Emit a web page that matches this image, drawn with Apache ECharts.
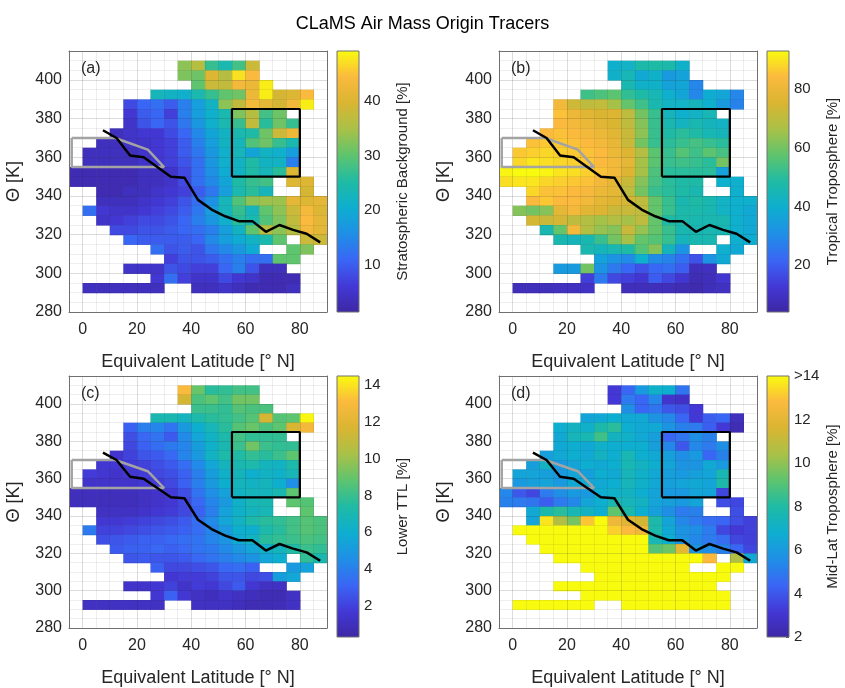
<!DOCTYPE html>
<html>
<head>
<meta charset="utf-8">
<script src="https://cdn.jsdelivr.net/npm/echarts@6/dist/echarts.min.js"></script>
<style>
  html, body { margin: 0; background: #fff; }
  #chart { width: 845px; height: 688px; }
</style>
</head>
<body>
<div id="chart"></div>
<script>
const _ = null;

// cell lower-left corners (5 deg x 5 K bins)
const latEdges = [-5, 0, 5, 10, 15, 20, 25, 30, 35, 40, 45, 50, 55, 60, 65, 70, 75, 80, 85];
const thetaRows = [405, 400, 395, 390, 385, 380, 375, 370, 365, 360, 355, 350, 345, 340, 335, 330, 325, 320, 315, 310, 305, 300, 295, 290];
const LAT_STEP = 5;
const THETA_STEP = 5;

// (a) stratospheric background [%]
const stratBackground = [
  [_,_,_,_,_,_,_,_,33,36,27,24,28,38,_,_,_,_,_],
  [_,_,_,_,_,_,_,_,32,31,40,36,47,44,_,_,_,_,_],
  [_,_,_,_,_,_,_,_,_,30,38,37,43,42,48,_,_,_,_],
  [_,_,_,_,_,_,23,22,21,24,27,30,31,42,48,39,40,44,_],
  [_,_,_,_,8,11,12,10,14,18,22,33,37,43,41,39,43,48,_],
  [_,_,_,_,6,10,11,7,14,18,21,24,32,36,28,31,_,_,_],
  [_,_,_,_,5,9,11,9,13,17,21,24,27,37,26,31,27,_,_],
  [_,_,_,4,5,6,6,8,11,15,19,22,24,25,31,38,42,_,_],
  [_,_,4,4,5,5,6,7,10,14,18,22,23,29,31,27,24,_,_],
  [_,4,4,4,4,5,6,7,10,13,17,21,23,19,22,21,18,_,_],
  [_,4,4,4,4,5,6,7,9,12,17,21,22,25,22,22,14,_,_],
  [3,3,3,3,3,4,4,5,8,12,16,20,22,25,23,26,40,_,_],
  [3,3,3,3,3,4,4,5,8,12,15,19,25,27,28,_,40,40,_],
  [_,_,3,3,4,4,5,6,7,10,13,18,24,26,23,_,_,39,_],
  [_,_,4,4,4,5,6,7,9,12,16,23,29,33,34,34,41,40,41],
  [_,12,6,5,5,6,7,8,10,13,18,23,27,23,30,33,38,43,40],
  [_,_,5,6,7,8,8,9,11,14,17,21,26,24,29,32,37,44,41],
  [_,_,_,8,8,9,9,10,11,12,14,18,22,30,36,33,36,43,41],
  [_,_,_,_,11,10,10,10,10,11,15,18,20,22,24,30,_,38,38],
  [_,_,_,_,_,_,12,9,10,9,13,15,17,20,_,_,30,32,_],
  [_,_,_,_,_,_,_,7,9,9,10,12,14,12,12,30,30,_,_],
  [_,_,_,_,5,5,5,9,8,7,7,11,14,9,4,4,_,_,_],
  [_,_,_,_,_,_,6,12,7,5,5,8,6,5,3,3,3,_,_],
  [_,4,4,4,4,4,4,_,_,4,4,5,4,3,3,3,4,_,_]
];

// (b) tropical troposphere [%]
const tropTroposphere = [
  [_,_,_,_,_,_,_,_,40,42,47,48,47,41,_,_,_,_,_],
  [_,_,_,_,_,_,_,_,41,45,38,41,34,36,_,_,_,_,_],
  [_,_,_,_,_,_,_,_,_,46,41,41,36,37,29,_,_,_,_],
  [_,_,_,_,_,_,53,55,57,51,48,45,40,37,29,39,37,29,_],
  [_,_,_,_,82,73,70,71,66,58,53,46,42,42,44,40,34,28,_],
  [_,_,_,_,85,80,77,75,76,70,60,52,44,40,42,45,_,_,_],
  [_,_,_,_,84,82,80,77,75,70,62,52,46,43,46,44,42,_,_],
  [_,_,_,84,85,84,82,80,77,72,63,52,48,50,48,45,44,_,_],
  [_,_,85,86,86,85,84,82,79,72,60,52,50,52,54,52,50,_,_],
  [_,86,87,88,87,86,85,84,80,76,68,57,52,56,53,57,54,_,_],
  [_,88,90,89,88,87,86,84,82,78,66,57,52,53,52,50,60,_,_],
  [92,93,93,92,90,89,87,85,82,76,66,55,50,50,50,50,36,_,_],
  [89,90,90,88,87,86,85,82,78,72,62,54,50,48,48,_,40,40,_],
  [_,_,88,85,85,84,83,80,78,70,60,52,50,48,46,_,_,40,_],
  [_,_,84,86,84,84,82,78,76,74,70,58,52,46,48,46,42,40,40],
  [_,62,60,62,78,82,77,76,72,72,70,58,52,47,47,46,42,40,38],
  [_,_,74,72,74,70,68,66,68,66,70,58,48,47,46,46,46,40,38],
  [_,_,_,46,58,82,68,64,62,72,64,58,52,46,46,46,45,40,38],
  [_,_,_,_,46,44,46,52,60,66,58,56,52,44,46,46,_,40,39],
  [_,_,_,_,_,_,46,44,46,48,56,62,44,32,_,_,40,38,_],
  [_,_,_,_,_,_,_,36,32,30,40,30,28,24,18,32,38,_,_],
  [_,_,_,_,34,34,60,32,26,22,18,22,24,20,8,9,_,_,_],
  [_,_,_,_,_,_,14,26,16,14,12,20,16,12,7,8,12,_,_],
  [_,8,8,8,9,9,10,_,_,8,8,8,8,7,6,8,9,_,_]
];

// (c) lower TTL [%]
const lowerTTL = [
  [_,_,_,_,_,_,_,_,13,9,7.6,7.8,8.2,8.2,_,_,_,_,_],
  [_,_,_,_,_,_,_,_,11.5,8.4,8.8,8.2,9.2,9.2,_,_,_,_,_],
  [_,_,_,_,_,_,_,_,_,8,8,7.8,8.6,8.4,8.4,_,_,_,_],
  [_,_,_,_,_,_,7,7,6.6,7.2,7.6,7.8,8.2,8.6,11.5,8.6,8.8,14.4,_],
  [_,_,_,_,3,4,4.2,3.6,5,6,6.8,7.6,8.6,9,8.4,8.8,11.6,12.8,_],
  [_,_,_,_,2.4,3.2,3.6,2.8,4.4,5.6,6.4,7.2,8.2,7.8,7.8,7.8,_,_,_],
  [_,_,_,_,2.2,3,3.4,3.8,4.2,5.2,6.2,7,8,9.2,8,7.8,7.8,_,_],
  [_,_,_,1.5,2,2.6,2.8,3.2,4.2,5,6.4,7.2,7.4,7.8,7.6,8,8.8,_,_],
  [_,_,1.6,1.6,1.8,2,2.4,2.8,3.4,4.4,5.6,6.6,7,7.2,6.6,6.4,7.2,_,_],
  [_,1.8,1.6,1.4,1.6,1.8,2.2,2.4,3,4,5.2,6.2,6.6,6,6.4,6.2,6.8,_,_],
  [_,1.4,1.4,1.4,1.4,1.6,1.8,2.2,3,4,5,6,6.6,6.4,6.6,6,4.6,_,_],
  [1,1,1,1,1,1.2,1.4,1.8,2.4,3.6,4.6,5.4,6.4,6.6,6.6,7,8.8,_,_],
  [1,1,1,1,1,1.2,1.4,1.6,2.2,3.2,4.2,5,6.2,6.8,7,_,8.8,8.6,_],
  [_,_,1.2,1.2,1.2,1.4,1.6,1.8,2.2,3,4,5.4,6.2,6.6,6.8,_,_,8.8,_],
  [_,_,1.6,1.6,1.8,2,2.2,2.4,2.8,3.4,4.4,5.6,6.4,7.2,7.6,7.8,8.2,8.6,8.4],
  [_,3.8,2,2,2.2,2.4,2.6,2.8,3,3.4,4.2,5,6,6,7.2,7.6,8.2,8.6,8.4],
  [_,_,2.4,2.6,2.8,3,3,3.2,3.4,3.6,4.2,4.8,5.8,6.4,7.6,7.8,8,8.4,8.2],
  [_,_,_,2.8,3,3,3.2,3,3.2,3.6,3.8,4.4,5,5.6,6.2,6.6,7.4,8,7.8],
  [_,_,_,_,2.6,2.8,2.6,2.6,2.8,3.2,3.6,4,4.4,4.8,5.6,6,_,7.8,7],
  [_,_,_,_,_,_,3,2.2,2.2,2.4,2.6,3.2,3.4,3,_,_,5,5.4,_],
  [_,_,_,_,_,_,_,1.6,1.8,1.8,2,2.6,2.6,2.2,2.4,5.2,5.6,_,_],
  [_,_,_,_,1.4,1.4,1.6,2,1.4,1.8,1.6,2.2,2.8,1.6,1.2,1.2,_,_,_],
  [_,_,_,_,_,_,1.6,3,1.6,1.2,1,1.4,1.2,1,0.8,0.8,1.2,_,_],
  [_,1.2,1.2,1.2,1.2,1.2,1.2,_,_,1.2,1.2,1.2,1,0.8,0.8,0.9,1.2,_,_]
];

// (d) mid-latitude troposphere [%]; cells shown as ">14" are kept at 14
const midLatTroposphere = [
  [_,_,_,_,_,_,_,_,3.2,4.4,6,7,6.8,4.8,_,_,_,_,_],
  [_,_,_,_,_,_,_,_,3.2,5,4.4,5.4,3,2.8,_,_,_,_,_],
  [_,_,_,_,_,_,_,_,_,5.6,4.4,4.8,4,3.8,3.2,_,_,_,_],
  [_,_,_,_,_,_,6.4,6.6,6.8,6.6,6.6,5.8,5.4,4.4,3.2,4.2,4.4,2.6,_],
  [_,_,_,_,6.8,7.2,7,7.8,8.2,6.8,6.6,6.6,5.8,5.2,5,4.2,3.2,2.4,_],
  [_,_,_,_,6.6,7.4,7.6,8.6,7.2,7,6.6,6.2,4.4,4.8,5.6,5.2,_,_,_],
  [_,_,_,_,6.6,6.8,6.6,7,6.8,6.8,6.8,6.2,5.4,4,5.4,5,5.6,_,_],
  [_,_,_,6.2,6.6,6.8,6.6,7.2,6.8,7.6,6.8,6.6,6.2,5.6,6,4.4,5.2,_,_],
  [_,_,6.2,7.2,6,6.4,6.8,6.6,6.8,7.6,7.2,6.8,6.4,5.8,5.8,6.6,6,_,_],
  [_,6.4,6.4,6.2,6,6.4,6.2,6.8,6.6,7.4,7,6.6,6.2,6,6.2,6.4,7.6,_,_],
  [_,6,6.2,6.4,6,6.6,6.6,6.6,6.8,7.4,7,6.6,6.2,6.4,6.6,6.4,7.8,_,_],
  [5.4,4,3.6,5,5.6,6,6,6.8,7,7.2,6.8,6.4,6,6,6.4,6.4,3.6,_,_],
  [5.2,5,4.8,4.2,5,5.4,6.4,6.8,7.6,7.4,7.2,6.4,6.2,6,6.4,_,3.8,3.6,_],
  [_,_,6.6,7.8,8.2,7.6,7.2,6.8,9.2,7.8,6.8,6.2,5.6,5,5.2,_,_,3.8,_],
  [_,_,6.4,13.6,10.6,9.6,13,14,12.4,11.8,11.4,7.8,6.4,5.4,5,4.6,4.4,3.8,3.4],
  [_,14,14,14,14,14,14,14,13.2,12.8,12.4,7.8,6.6,5.8,5.6,5,3.6,3.2,3.4],
  [_,_,14,14,14,14,14,14,14,14,14,7.6,6.8,5.8,5.4,5,4.6,3.6,3.4],
  [_,_,_,14,14,14,14,14,14,14,14,9,9.4,12,5.8,5.6,5.2,4.4,3.6],
  [_,_,_,_,14,14,14,14,14,14,14,14,14,14,14,12.8,_,10.6,6.6],
  [_,_,_,_,_,_,14,14,14,14,14,14,14,14,_,_,14,14,_],
  [_,_,_,_,_,_,_,14,14,14,14,14,14,14,14,14,14,_,_],
  [_,_,_,_,14,14,14,14,14,14,14,14,14,14,14,14,_,_,_],
  [_,_,_,_,_,_,14,14,14,14,14,14,14,14,14,14,14,_,_],
  [_,14,14,14,14,14,14,_,_,14,14,14,14,14,14,14,14,_,_]
];

// dynamical tropopause (black line)
const tropoLat = [7.5, 12.5, 17.5, 22.5, 27.5, 32.5, 37.5, 42.5, 47.5, 52.5, 57.5, 62.5, 67.5, 72.5, 77.5, 82.5, 87.5];
const tropoTheta = [374, 370, 361, 360, 355, 350, 349.5, 338, 333, 329.5, 327, 327, 321.5, 325, 322.5, 320.5, 316];

// source region outline (grey) and target box (black)
const sourceLat = [-4, 12, 24, 30, -4, -4];
const sourceTheta = [370, 370, 364, 355, 355, 370];
const boxLat = [55, 80, 80, 55, 55];
const boxTheta = [350, 350, 385, 385, 350];

const PARULA = ['#3d27a3', '#4338d6', '#3a66f5', '#1f8fe6', '#0eaed0', '#1fbba4',
                '#5ec46e', '#a9c147', '#dab532', '#fbba3e', '#f9fb0e'];

const FONT = '"Liberation Sans", Arial, Helvetica, sans-serif';
const TXT = '#262626';
const FRAME = '#707070';
const MAJOR = 'rgba(38,38,38,0.16)';
const MINOR = 'rgba(38,38,38,0.08)';

const panels = [
  { tag: '(a)', values: stratBackground, min: 1.5, max: 49, ticks: [10, 20, 30, 40],
    label: 'Stratospheric Background [%]', left: 69, top: 51, cbLeft: 337 },
  { tag: '(b)', values: tropTroposphere, min: 4, max: 93, ticks: [20, 40, 60, 80],
    label: 'Tropical Troposphere [%]', left: 499, top: 51, cbLeft: 767 },
  { tag: '(c)', values: lowerTTL, min: 0.3, max: 14.5, ticks: [2, 4, 6, 8, 10, 12, 14],
    label: 'Lower TTL [%]', left: 69, top: 376, cbLeft: 337 },
  { tag: '(d)', values: midLatTroposphere, min: 2, max: 14, ticks: [2, 4, 6, 8, 10, 12, 14],
    label: 'Mid-Lat Troposphere [%]', left: 499, top: 376, cbLeft: 767, over: true }
];

const PLOT_W = 258, PLOT_H = 261, CB_W = 22;

const toCells = (rows) => {
  const out = [];
  rows.forEach((row, r) => {
    row.forEach((v, c) => {
      if (v !== null) out.push([latEdges[c], thetaRows[r], v]);
    });
  });
  return out;
};

const gradStops = PARULA.map((c, i) => ({ offset: i / (PARULA.length - 1), color: c }));

const title = [{
  text: 'CLaMS Air Mass Origin Tracers',
  left: 'center', top: 10,
  textStyle: { fontSize: 18, fontWeight: 'normal', color: '#000', fontFamily: FONT }
}];
const grid = [], xAxis = [], yAxis = [], series = [], visualMap = [];

panels.forEach((p) => {
  const gi = grid.length;
  grid.push({ left: p.left, top: p.top, width: PLOT_W, height: PLOT_H });

  const xi = xAxis.length;
  xAxis.push({
    gridIndex: gi, type: 'value', min: -5, max: 90, interval: 5, z: 3,
    axisLine: { show: true, onZero: false, lineStyle: { color: FRAME, width: 1 } },
    axisTick: { show: false },
    axisLabel: {
      formatter: (v) => (v % 20 === 0 && v >= 0 && v <= 80 ? String(v) : ''),
      fontSize: 16, color: TXT, margin: 10, fontFamily: FONT
    },
    splitLine: { show: true, lineStyle: { color: [MINOR, MAJOR, MINOR, MINOR], width: 1 } },
    name: 'Equivalent Latitude [° N]', nameLocation: 'middle', nameGap: 41,
    nameTextStyle: { fontSize: 18, color: TXT, fontFamily: FONT }
  });
  xAxis.push({
    gridIndex: gi, type: 'value', min: -5, max: 90, position: 'top', z: 3,
    axisLine: { show: true, onZero: false, lineStyle: { color: FRAME, width: 1 } },
    axisTick: { show: false }, axisLabel: { show: false }, splitLine: { show: false }
  });

  const yi = yAxis.length;
  yAxis.push({
    gridIndex: gi, type: 'value', min: 280, max: 415, interval: 5, z: 3,
    axisLine: { show: true, onZero: false, lineStyle: { color: FRAME, width: 1 } },
    axisTick: { show: false },
    axisLabel: {
      formatter: (v) => (v % 20 === 0 && v <= 400 ? String(v) : ''),
      fontSize: 16, color: TXT, margin: 7, fontFamily: FONT
    },
    splitLine: { show: true, lineStyle: { color: [MAJOR, MINOR, MINOR, MINOR], width: 1 } },
    name: 'Θ [K]', nameLocation: 'middle', nameGap: 46, nameRotate: 90,
    nameTextStyle: { fontSize: 18, color: TXT, fontFamily: FONT }
  });
  yAxis.push({
    gridIndex: gi, type: 'value', min: 280, max: 415, position: 'right', z: 3,
    axisLine: { show: true, onZero: false, lineStyle: { color: FRAME, width: 1 } },
    axisTick: { show: false }, axisLabel: { show: false }, splitLine: { show: false }
  });

  const si = series.length;
  series.push({
    type: 'custom', xAxisIndex: xi, yAxisIndex: yi, z: 2,
    data: toCells(p.values),
    encode: { x: 0, y: 1 },
    renderItem: (params, api) => {
      const lo = api.coord([api.value(0), api.value(1)]);
      const hi = api.coord([api.value(0) + LAT_STEP, api.value(1) + THETA_STEP]);
      return {
        type: 'rect',
        shape: { x: lo[0], y: hi[1], width: hi[0] - lo[0] + 0.6, height: lo[1] - hi[1] + 0.6 },
        style: { fill: api.visual('color') }
      };
    }
  });
  visualMap.push({
    show: false, type: 'continuous', seriesIndex: si, dimension: 2,
    min: p.min, max: p.max, inRange: { color: PARULA }
  });

  const lineBase = { type: 'line', xAxisIndex: xi, yAxisIndex: yi, symbol: 'none', silent: true, z: 5 };
  series.push(Object.assign({}, lineBase, {
    data: sourceLat.map((x, k) => [x, sourceTheta[k]]),
    lineStyle: { color: '#a3a3a3', width: 2.5 }
  }));
  series.push(Object.assign({}, lineBase, {
    data: boxLat.map((x, k) => [x, boxTheta[k]]),
    lineStyle: { color: '#000', width: 2.2 }
  }));
  series.push(Object.assign({}, lineBase, {
    data: tropoLat.map((x, k) => [x, tropoTheta[k]]),
    lineStyle: { color: '#000', width: 2.5 }
  }));

  title.push({
    text: p.tag, left: p.left + 7, top: p.top + 5,
    textStyle: { fontSize: 16, fontWeight: 'normal', color: TXT, fontFamily: FONT }
  });

  // colorbar
  const cg = grid.length;
  grid.push({ left: p.cbLeft, top: p.top, width: CB_W, height: PLOT_H });
  const cx = xAxis.length;
  xAxis.push({ gridIndex: cg, type: 'value', min: 0, max: 1, show: false });
  const cy = yAxis.length;
  yAxis.push({
    gridIndex: cg, type: 'value', position: 'right', min: p.min, max: p.max,
    axisLine: { show: false, onZero: false },
    splitLine: { show: false },
    axisTick: { show: true, inside: true, length: 3, customValues: p.ticks, lineStyle: { color: '#444' } },
    axisLabel: {
      customValues: p.ticks, fontSize: 15, color: TXT, margin: 5, fontFamily: FONT,
      formatter: (v) => (p.over && v === 14 ? '>14' : String(v))
    },
    name: p.label, nameLocation: 'middle', nameRotate: 90, nameGap: 36,
    nameTextStyle: { fontSize: 15, color: TXT, fontFamily: FONT }
  });
  series.push({
    type: 'custom', xAxisIndex: cx, yAxisIndex: cy, silent: true,
    data: [[0, p.min, 1, p.max]],
    renderItem: (params, api) => {
      const a = api.coord([api.value(0), api.value(1)]);
      const b = api.coord([api.value(2), api.value(3)]);
      return {
        type: 'rect',
        shape: { x: a[0], y: b[1], width: b[0] - a[0], height: a[1] - b[1] },
        style: {
          fill: new echarts.graphic.LinearGradient(0, 1, 0, 0, gradStops),
          stroke: FRAME, lineWidth: 1
        }
      };
    }
  });
});

const chart = echarts.init(document.getElementById('chart'), null, { renderer: 'canvas' });
chart.setOption({
  animation: false,
  backgroundColor: '#fff',
  textStyle: { fontFamily: FONT },
  title, grid, xAxis, yAxis, visualMap, series
});
</script>
</body>
</html>
